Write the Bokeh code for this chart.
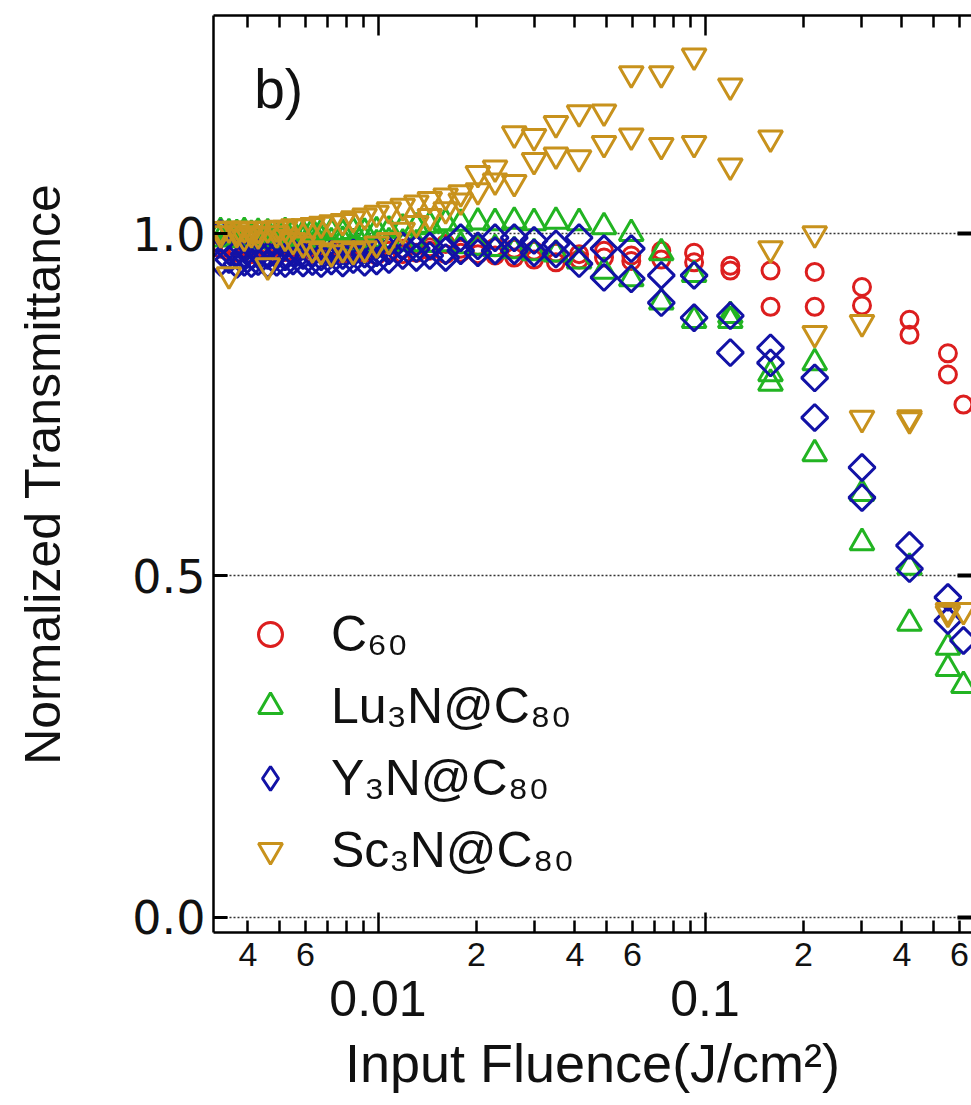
import numpy as np
from bokeh.plotting import figure
from bokeh.models import (LogAxis, LinearAxis, FixedTicker, CustomJSTickFormatter,
                          PrintfTickFormatter, Grid, Range1d, Label, Legend, LegendItem)
from bokeh.embed import file_html
from bokeh.resources import INLINE

# ---------------- data ----------------
# fluence positions of the z-scan (J/cm^2); index 0 = focus, others measured on both sides
fluence = [0.617, 0.553, 0.422, 0.302, 0.2165, 0.1586, 0.1195, 0.0926, 0.0735, 0.0595,
           0.0491, 0.0412, 0.0350, 0.0300, 0.0261, 0.0228, 0.0202, 0.0179, 0.0161, 0.0144,
           0.0131, 0.0119, 0.0108, 0.0099, 0.0091, 0.0084, 0.0078, 0.0072, 0.0067, 0.0063,
           0.0059, 0.0055, 0.0052, 0.0049, 0.0046, 0.0043, 0.0041, 0.0039, 0.0037, 0.0035,
           0.0033]

c60_a = [0.750, 0.825, 0.874, 0.922, 0.944, 0.946, 0.953, 0.972, 0.975, 0.968,
         0.975, 0.970, 0.972, 0.975, 0.978, 0.980, 0.982, 0.978, 0.985, 0.980,
         0.983, 0.978, 0.985, 0.982, 0.980, 0.984, 0.978, 0.982, 0.986, 0.980,
         0.983, 0.979, 0.985, 0.981, 0.984, 0.978, 0.982, 0.986, 0.980, 0.983,
         0.985]
c60_b = [0.794, 0.852, 0.895, 0.893, 0.893, 0.946, 0.958, 0.962, 0.960,
         0.965, 0.962, 0.958, 0.962, 0.965, 0.968, 0.970, 0.972, 0.970, 0.975,
         0.972, 0.970, 0.975, 0.968, 0.972, 0.975, 0.970, 0.972, 0.974, 0.970,
         0.976, 0.971, 0.973, 0.969, 0.975, 0.972, 0.970, 0.976, 0.972, 0.974,
         0.978]

lu_a = [0.339, 0.395, 0.512, 0.620, 0.811, 0.795, 0.880, 0.940, 0.972, 1.000,
        1.010, 1.016, 1.018, 1.016, 1.018, 1.016, 1.017, 1.015, 1.016, 1.012,
        1.010, 1.008, 1.005, 1.004, 1.002, 1.003, 1.000, 1.002, 1.001, 1.003,
        0.999, 1.001, 1.003, 0.998, 1.001, 1.002, 0.999, 1.003, 1.000, 1.001,
        1.003]
lu_b = [0.364, 0.430, 0.548, 0.678, 0.781, 0.873, 0.873, 0.900, 0.934,
        0.945, 0.960, 0.970, 0.972, 0.975, 0.978, 0.980, 0.982, 0.985, 0.984,
        0.985, 0.986, 0.988, 0.985, 0.990, 0.987, 0.990, 0.988, 0.992, 0.989,
        0.991, 0.988, 0.993, 0.990, 0.992, 0.989, 0.994, 0.991, 0.993, 0.995,
        0.992]

y_a = [0.405, 0.468, 0.544, 0.658, 0.789, 0.833, 0.880, 0.939, 0.939, 0.978,
       0.978, 0.994, 0.985, 0.990, 0.994, 0.994, 0.982, 0.994, 0.975, 0.982,
       0.978, 0.982, 0.975, 0.972, 0.970, 0.972, 0.968, 0.970, 0.966, 0.971,
       0.968, 0.972, 0.966, 0.970, 0.968, 0.972, 0.967, 0.970, 0.972, 0.975,
       1.000]
y_b = [0.434, 0.510, 0.614, 0.731, 0.811, 0.826, 0.877, 0.899, 0.934,
       0.936, 0.956, 0.970, 0.972, 0.975, 0.975, 0.972, 0.975, 0.965, 0.968,
       0.965, 0.968, 0.962, 0.960, 0.958, 0.962, 0.957, 0.960, 0.956, 0.959,
       0.957, 0.960, 0.956, 0.958, 0.955, 0.959, 0.956, 0.958, 0.955, 0.962,
       0.958]

sc_a = [0.449, 0.449, 0.731, 0.870, 1.000, 1.140, 1.216, 1.260, 1.234, 1.234,
        1.178, 1.177, 1.161, 1.142, 1.146, 1.096, 1.088, 1.060, 1.055, 1.050,
        1.045, 1.040, 1.035, 1.030, 1.026, 1.022, 1.018, 1.016, 1.014, 1.012,
        1.010, 1.010, 1.008, 1.008, 1.007, 1.006, 1.006, 1.007, 1.005, 1.007,
        1.006]
sc_b = [0.445, 0.728, 0.730, 0.854, 0.978, 1.099, 1.132, 1.129, 1.143,
        1.132, 1.111, 1.115, 1.107, 1.075, 1.077, 1.063, 1.048, 1.035, 1.025,
        1.015, 1.005, 0.990, 0.985, 0.978, 0.975, 0.978, 0.972, 0.975, 0.978,
        0.985, 0.990, 0.995, 1.000, 0.953, 0.998, 1.000, 0.995, 1.000, 0.940,
        1.000]

series_names = ["C\u2086\u2080", "Lu\u2083N@C\u2088\u2080", "Y\u2083N@C\u2088\u2080", "Sc\u2083N@C\u2088\u2080"]

x_ticks_minor_labeled = [0.004, 0.006, 0.02, 0.04, 0.06, 0.2, 0.4, 0.6]
x_ticks_major = [0.01, 0.1]
x_ticks_minor = [0.004, 0.005, 0.006, 0.007, 0.008, 0.009,
                 0.02, 0.03, 0.04, 0.05, 0.06, 0.07, 0.08, 0.09,
                 0.2, 0.3, 0.4, 0.5, 0.6]
y_ticks = [0.0, 0.5, 1.0]

# ---------------- styling ----------------
FONT = "Liberation Sans"
colors = ["#DC1E1E", "#22B422", "#1212A6", "#C8921C"]
markers = ["circle", "triangle", "square", "inverted_triangle"]
legend_markers = ["circle", "triangle", "diamond", "inverted_triangle"]
sizes = [17, 24, 18.5, 24]
angles = [0, 0, np.pi / 4, 0]

p = figure(width=971, height=1105, x_axis_type="log",
           x_range=Range1d(0.00314, 0.653), y_range=Range1d(-0.022, 1.319),
           x_axis_location=None, y_axis_location=None,
           output_backend="svg", toolbar_location=None,
           min_border_left=213, min_border_right=0, min_border_top=15, min_border_bottom=173)
p.outline_line_color = None
p.background_fill_color = "white"
p.border_fill_color = "white"
for g in list(p.grid):
    g.visible = False

# dotted reference lines at 0, 0.5, 1.0
p.add_layout(Grid(dimension=1, ticker=FixedTicker(ticks=y_ticks),
                  grid_line_color="#333333", grid_line_width=1.6, grid_line_dash="2 2"), "center")

LW = 2.5
empty = CustomJSTickFormatter(code="return ''")

# bottom frame axis: ticks only
ax_a = LogAxis(ticker=FixedTicker(ticks=x_ticks_major, minor_ticks=x_ticks_minor),
               formatter=empty, axis_line_width=LW, axis_line_color="black",
               major_tick_in=20, major_tick_out=0, minor_tick_in=12, minor_tick_out=0,
               major_tick_line_width=LW, minor_tick_line_width=LW,
               major_label_text_font_size="0px", major_label_standoff=0)
p.add_layout(ax_a, "below")

# minor labels 4, 6, 2 ...
ax_b = LogAxis(ticker=FixedTicker(ticks=x_ticks_minor_labeled),
               formatter=CustomJSTickFormatter(code="""
                   const e = Math.floor(Math.log10(tick) + 1e-9);
                   return String(Math.round(tick / Math.pow(10, e)));"""),
               axis_line_color=None, major_tick_line_color=None, minor_tick_line_color=None,
               major_tick_in=0, major_tick_out=0,
               major_label_text_font=FONT, major_label_text_font_size="34px",
               major_label_text_color="#111111", major_label_standoff=10)
p.add_layout(ax_b, "below")

# decade labels + axis title
ax_c = LogAxis(ticker=FixedTicker(ticks=x_ticks_major),
               formatter=CustomJSTickFormatter(code="return String(tick);"),
               axis_line_color=None, major_tick_line_color=None, minor_tick_line_color=None,
               major_tick_in=0, major_tick_out=0,
               major_label_text_font=FONT, major_label_text_font_size="50px",
               major_label_text_color="#111111", major_label_standoff=12,
               axis_label="Input Fluence(J/cm\u00b2)", axis_label_text_font=FONT,
               axis_label_text_font_size="54px", axis_label_text_font_style="normal",
               axis_label_text_color="#111111", axis_label_standoff=14)
p.add_layout(ax_c, "below")

# top axis
ax_top = LogAxis(ticker=FixedTicker(ticks=x_ticks_major, minor_ticks=x_ticks_minor),
                 formatter=empty, axis_line_width=LW, axis_line_color="black",
                 major_tick_in=20, major_tick_out=0, minor_tick_in=12, minor_tick_out=0,
                 major_tick_line_width=LW, minor_tick_line_width=LW,
                 major_label_text_font_size="0px", major_label_standoff=0)
p.add_layout(ax_top, "above")

# left axis
ax_l = LinearAxis(ticker=FixedTicker(ticks=y_ticks), formatter=PrintfTickFormatter(format="%.1f"),
                  axis_line_width=LW, axis_line_color="black",
                  major_tick_in=14, major_tick_out=0, major_tick_line_width=3,
                  minor_tick_line_color=None,
                  major_label_text_font="DejaVu Sans", major_label_text_font_size="46px",
                  major_label_text_color="#111111", major_label_standoff=8,
                  axis_label="Normalized Transmittance", axis_label_text_font=FONT,
                  axis_label_text_font_size="50px", axis_label_text_font_style="normal",
                  axis_label_text_color="#111111", axis_label_standoff=58)
p.add_layout(ax_l, "left")

# right axis (ticks only)
ax_r = LinearAxis(ticker=FixedTicker(ticks=y_ticks), formatter=empty,
                  axis_line_color=None, major_tick_in=14, major_tick_out=0,
                  major_tick_line_width=4, minor_tick_line_color=None,
                  major_label_text_font_size="0px", major_label_standoff=0)
p.add_layout(ax_r, "right")

# scatter series
data = [(c60_a, c60_b), (lu_a, lu_b), (y_a, y_b), (sc_a, sc_b)]
legend_items = []
for (ta, tb), col, mk, lmk, sz, ang, name in zip(data, colors, markers, legend_markers,
                                                 sizes, angles, series_names):
    xs = fluence + fluence[1:]
    ys = ta + tb
    r = p.scatter(xs, ys, marker=mk, size=sz, angle=ang, fill_color=None,
                  line_color=col, line_width=3)
    if lmk != mk:
        # hidden twin renderer that only provides the (unrotated) legend swatch
        r_leg = p.scatter(xs, ys, marker=lmk, size=sz, fill_color=None,
                          line_color=col, line_width=3, visible=False)
        legend_items.append(LegendItem(label=name, renderers=[r_leg]))
    else:
        legend_items.append(LegendItem(label=name, renderers=[r]))

legend = Legend(items=legend_items, location=(27, 52), orientation="vertical",
                glyph_width=60, glyph_height=60, spacing=12, padding=0, margin=0,
                label_standoff=31, label_text_font=FONT, label_text_font_size="50px",
                label_text_color="#111111", background_fill_alpha=0, border_line_color=None,
                label_height=60, click_policy="none")
p.add_layout(legend, "center")

p.add_layout(Label(x=0.00418, y=1.212, text="b)", text_font=FONT, text_font_size="55px",
                   text_color="#111111", text_baseline="alphabetic"))

open("out.html", "w").write(file_html(p, INLINE))
